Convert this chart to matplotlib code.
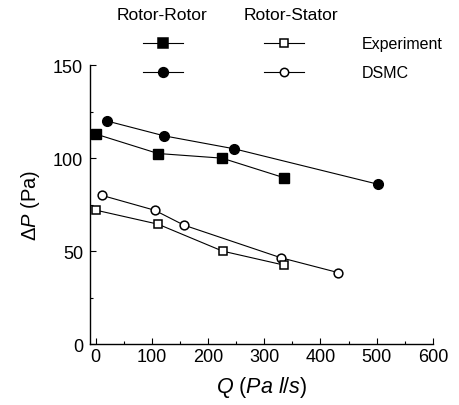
import matplotlib
matplotlib.use('Agg')
import matplotlib.pyplot as plt
from matplotlib.lines import Line2D
from matplotlib.ticker import MultipleLocator

plt.rcParams.update({
    'font.family': ['Liberation Sans', 'DejaVu Sans'],
    'mathtext.fontset': 'custom',
    'mathtext.rm': 'Liberation Sans',
    'mathtext.it': 'Liberation Sans:italic',
})

# Rotor-Rotor
rr_exp_q = [0, 111, 225, 335]
rr_exp_dp = [113, 102.5, 100, 89.5]
rr_dsmc_q = [20, 122, 247, 502]
rr_dsmc_dp = [120, 112, 105, 86]
# Rotor-Stator
rs_exp_q = [1, 111, 226, 335]
rs_exp_dp = [72, 64.5, 50, 42.5]
rs_dsmc_q = [11, 105, 157, 329, 431]
rs_dsmc_dp = [80, 72, 64, 46.5, 38.5]

fig = plt.figure(figsize=(4.59, 4.06), dpi=100)
ax = fig.add_axes([0.196, 0.150, 0.747, 0.687])

lw = 0.8
ax.plot(rr_dsmc_q, rr_dsmc_dp, color='black', lw=lw, marker='o', ms=7,
        mfc='black', mec='black', mew=1.0, clip_on=False)
ax.plot(rr_exp_q, rr_exp_dp, color='black', lw=lw, marker='s', ms=6.8,
        mfc='black', mec='black', mew=1.0, clip_on=False)
ax.plot(rs_dsmc_q, rs_dsmc_dp, color='black', lw=lw, marker='o', ms=6.3,
        mfc='white', mec='black', mew=1.1, clip_on=False)
ax.plot(rs_exp_q, rs_exp_dp, color='black', lw=lw, marker='s', ms=6,
        mfc='white', mec='black', mew=1.1, clip_on=False)

ax.set_xlim(-10, 600)
ax.set_ylim(0, 150)
ax.xaxis.set_major_locator(MultipleLocator(100))
ax.xaxis.set_minor_locator(MultipleLocator(50))
ax.yaxis.set_major_locator(MultipleLocator(50))
ax.yaxis.set_minor_locator(MultipleLocator(25))
ax.spines['top'].set_visible(False)
ax.spines['right'].set_visible(False)
for s in ('left', 'bottom'):
    ax.spines[s].set_linewidth(1.0)
ax.tick_params(which='both', direction='in', width=0.8, labelsize=13)
ax.tick_params(which='major', length=4)
ax.tick_params(which='minor', length=2.5)
ax.tick_params(axis='x', pad=3)
ax.tick_params(axis='y', pad=5)

ax.set_xlabel(r'$Q$ ($Pa\ l/s$)', fontsize=15.5, labelpad=6)
ax.set_ylabel(r'$\mathit{\Delta P}$ (Pa)', fontsize=14.5, labelpad=8)

# legend block above the axes
W, H = 459.0, 406.0
def fx(px):
    return px / W
def fy(py):
    return 1 - py / H

fig.text(fx(162), fy(15), 'Rotor-Rotor', ha='center', va='center', fontsize=12.5)
fig.text(fx(291), fy(15), 'Rotor-Stator', ha='center', va='center', fontsize=12.5)
fig.text(fx(362), fy(44), 'Experiment', ha='left', va='center', fontsize=11.5)
fig.text(fx(362), fy(73), 'DSMC', ha='left', va='center', fontsize=11.5)

legend_glyphs = [
    (163, 44, 's', 'black', 6.5),
    (163, 73, 'o', 'black', 7),
    (284, 44, 's', 'white', 5.5),
    (284, 73, 'o', 'white', 6),
]
for cx, cy, m, fc, ms in legend_glyphs:
    fig.add_artist(Line2D([fx(cx - 20), fx(cx + 20)], [fy(cy), fy(cy)],
                          transform=fig.transFigure, color='black', lw=lw))
    fig.add_artist(Line2D([fx(cx)], [fy(cy)], transform=fig.transFigure,
                          marker=m, ms=ms, mfc=fc, mec='black', mew=1.1, ls='none'))

fig.savefig('out.png', dpi=100, facecolor='white')
